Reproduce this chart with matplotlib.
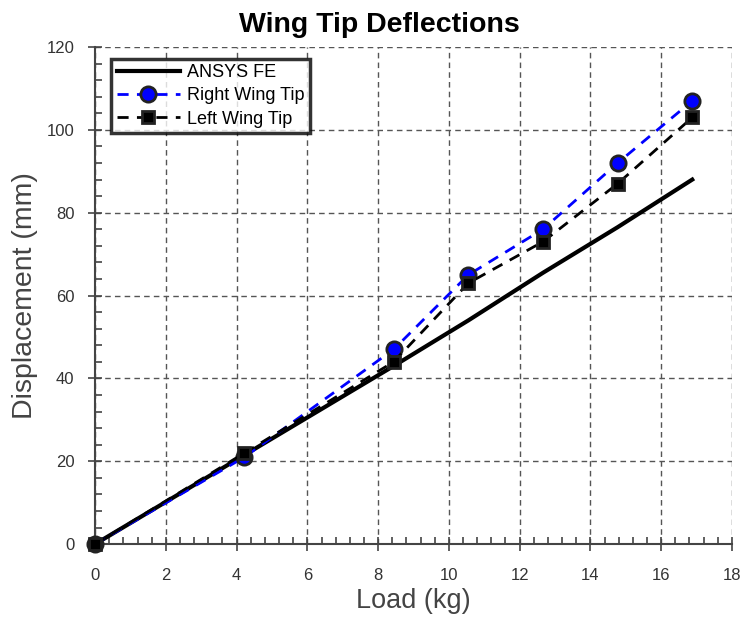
import numpy as np
import matplotlib.pyplot as plt
from matplotlib.ticker import MultipleLocator

# load steps and measured tip deflections
load_kg = [0, 4.22, 8.44, 10.55, 12.66, 14.77, 16.88]
ansys_fe = [0, 21.5, 43, 54, 65.5, 76.5, 88]
right_tip = [0, 21, 47, 65, 76, 92, 107]
left_tip = [0, 22, 44, 63, 73, 87, 103]

plt.rcParams['font.family'] = ['Liberation Sans', 'DejaVu Sans']

fig = plt.figure(figsize=(7.43, 6.19), dpi=100)
ax = fig.add_axes([0.128, 0.121, 0.857, 0.803])

ax.plot(load_kg, ansys_fe, color='black', lw=3, label='ANSYS FE', zorder=3,
        clip_on=False)
ax.plot(load_kg, right_tip, color='#0000ff', lw=2, dashes=(4, 3),
        marker='o', ms=11, mfc='#0000ff', mec='#222222', mew=2,
        label='Right Wing Tip', zorder=4, clip_on=False)
ax.plot(load_kg, left_tip, color='black', lw=2, dashes=(4, 3),
        marker='s', ms=9, mfc='black', mec='#222222', mew=2,
        label='Left Wing Tip', zorder=4, clip_on=False)

ax.set_xlim(0, 18)
ax.set_ylim(0, 120)
ax.xaxis.set_major_locator(MultipleLocator(2))
ax.xaxis.set_minor_locator(MultipleLocator(0.4))
ax.yaxis.set_major_locator(MultipleLocator(20))
ax.yaxis.set_minor_locator(MultipleLocator(4))

ax.grid(True, which='major', ls=(0, (4, 3)), color='#555555', lw=1)
ax.set_axisbelow(True)
for s in ['top', 'right']:
    ax.spines[s].set_visible(False)
for s in ['left', 'bottom']:
    ax.spines[s].set_color('#444444')
    ax.spines[s].set_linewidth(1.5)
ax.tick_params(which='major', direction='inout', length=10, width=1.2,
               color='#444444', labelcolor='#333333', labelsize=12)
ax.tick_params(axis='x', which='major', pad=12)
ax.tick_params(axis='y', which='major', pad=10)
ax.tick_params(which='minor', direction='in', length=5, width=1.2,
               color='#444444')
for lbl in ax.get_xticklabels() + ax.get_yticklabels():
    lbl.set_family(['Liberation Sans Narrow', 'Liberation Sans'])

ax.set_xlabel('Load (kg)', fontsize=19.5, color='#444444', labelpad=4)
ax.set_ylabel('Displacement (mm)', fontsize=20.5, color='#444444', labelpad=6)
fig.text(0.51, 0.96, 'Wing Tip Deflections', fontsize=20.5,
         fontweight='bold', ha='center', va='center')

leg = ax.legend(loc='upper left', bbox_to_anchor=(0.011, 0.995), fontsize=13,
                frameon=True, fancybox=False, edgecolor='black',
                handlelength=3.5, borderpad=0.3, labelspacing=0.35,
                handletextpad=0.4)
leg.get_frame().set_linewidth(2.5)

fig.savefig('out.png', dpi=100)
